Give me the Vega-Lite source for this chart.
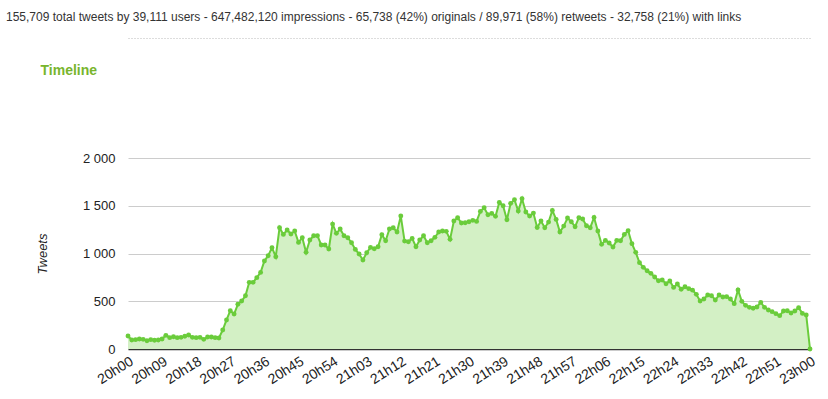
{
  "$schema": "https://vega.github.io/schema/vega-lite/v6.json",
  "autosize": {"type": "none"},
  "padding": {"left": 128, "top": 158, "right": 18, "bottom": 50},
  "width": 682,
  "height": 191,
  "background": "white",
  "config": {"view": {"stroke": null}, "font": "Liberation Sans"},
  "title": {
    "text": "155,709 total tweets by 39,111 users - 647,482,120 impressions - 65,738 (42%) originals / 89,971 (58%) retweets - 32,758 (21%) with links",
    "anchor": "start", "frame": "group", "dx": -122, "offset": 14,
    "fontSize": 12, "fontWeight": "normal", "color": "#333", "font": "Liberation Sans"
  },
  "data": {"values": [
    {"t":"20h00","n":136},{"t":"20h01","n":94},{"t":"20h02","n":98},{"t":"20h03","n":105},{"t":"20h04","n":101},{"t":"20h05","n":87},{"t":"20h06","n":98},{"t":"20h07","n":91},{"t":"20h08","n":94},{"t":"20h09","n":105},
    {"t":"20h10","n":143},{"t":"20h11","n":119},{"t":"20h12","n":129},{"t":"20h13","n":119},{"t":"20h14","n":122},{"t":"20h15","n":133},{"t":"20h16","n":147},{"t":"20h17","n":122},{"t":"20h18","n":119},{"t":"20h19","n":122},
    {"t":"20h20","n":101},{"t":"20h21","n":126},{"t":"20h22","n":126},{"t":"20h23","n":119},{"t":"20h24","n":115},{"t":"20h25","n":199},{"t":"20h26","n":304},{"t":"20h27","n":401},{"t":"20h28","n":366},{"t":"20h29","n":468},
    {"t":"20h30","n":502},{"t":"20h31","n":558},{"t":"20h32","n":698},{"t":"20h33","n":698},{"t":"20h34","n":747},{"t":"20h35","n":802},{"t":"20h36","n":921},{"t":"20h37","n":977},{"t":"20h38","n":1061},{"t":"20h39","n":966},
    {"t":"20h40","n":1270},{"t":"20h41","n":1200},{"t":"20h42","n":1246},{"t":"20h43","n":1204},{"t":"20h44","n":1235},{"t":"20h45","n":1116},{"t":"20h46","n":1165},{"t":"20h47","n":1012},{"t":"20h48","n":1141},{"t":"20h49","n":1186},
    {"t":"20h50","n":1186},{"t":"20h51","n":1089},{"t":"20h52","n":1089},{"t":"20h53","n":1047},{"t":"20h54","n":1308},{"t":"20h55","n":1211},{"t":"20h56","n":1256},{"t":"20h57","n":1186},{"t":"20h58","n":1165},{"t":"20h59","n":1113},
    {"t":"21h00","n":1043},{"t":"21h01","n":994},{"t":"21h02","n":932},{"t":"21h03","n":1008},{"t":"21h04","n":1064},{"t":"21h05","n":1050},{"t":"21h06","n":1071},{"t":"21h07","n":1197},{"t":"21h08","n":1134},{"t":"21h09","n":1256},
    {"t":"21h10","n":1270},{"t":"21h11","n":1225},{"t":"21h12","n":1392},{"t":"21h13","n":1130},{"t":"21h14","n":1123},{"t":"21h15","n":1158},{"t":"21h16","n":1071},{"t":"21h17","n":1141},{"t":"21h18","n":1186},{"t":"21h19","n":1113},
    {"t":"21h20","n":1134},{"t":"21h21","n":1169},{"t":"21h22","n":1225},{"t":"21h23","n":1235},{"t":"21h24","n":1232},{"t":"21h25","n":1148},{"t":"21h26","n":1340},{"t":"21h27","n":1375},{"t":"21h28","n":1319},{"t":"21h29","n":1322},
    {"t":"21h30","n":1333},{"t":"21h31","n":1347},{"t":"21h32","n":1336},{"t":"21h33","n":1441},{"t":"21h34","n":1479},{"t":"21h35","n":1406},{"t":"21h36","n":1420},{"t":"21h37","n":1389},{"t":"21h38","n":1535},{"t":"21h39","n":1500},
    {"t":"21h40","n":1354},{"t":"21h41","n":1525},{"t":"21h42","n":1563},{"t":"21h43","n":1444},{"t":"21h44","n":1574},{"t":"21h45","n":1434},{"t":"21h46","n":1392},{"t":"21h47","n":1423},{"t":"21h48","n":1273},{"t":"21h49","n":1340},
    {"t":"21h50","n":1270},{"t":"21h51","n":1329},{"t":"21h52","n":1451},{"t":"21h53","n":1357},{"t":"21h54","n":1225},{"t":"21h55","n":1287},{"t":"21h56","n":1371},{"t":"21h57","n":1333},{"t":"21h58","n":1280},{"t":"21h59","n":1375},
    {"t":"22h00","n":1361},{"t":"22h01","n":1291},{"t":"22h02","n":1270},{"t":"22h03","n":1378},{"t":"22h04","n":1235},{"t":"22h05","n":1096},{"t":"22h06","n":1137},{"t":"22h07","n":1110},{"t":"22h08","n":1068},{"t":"22h09","n":1137},
    {"t":"22h10","n":1134},{"t":"22h11","n":1200},{"t":"22h12","n":1239},{"t":"22h13","n":1103},{"t":"22h14","n":1012},{"t":"22h15","n":904},{"t":"22h16","n":855},{"t":"22h17","n":820},{"t":"22h18","n":792},{"t":"22h19","n":754},
    {"t":"22h20","n":715},{"t":"22h21","n":722},{"t":"22h22","n":684},{"t":"22h23","n":712},{"t":"22h24","n":645},{"t":"22h25","n":680},{"t":"22h26","n":625},{"t":"22h27","n":652},{"t":"22h28","n":632},{"t":"22h29","n":616},
    {"t":"22h30","n":572},{"t":"22h31","n":502},{"t":"22h32","n":523},{"t":"22h33","n":565},{"t":"22h34","n":558},{"t":"22h35","n":513},{"t":"22h36","n":565},{"t":"22h37","n":544},{"t":"22h38","n":548},{"t":"22h39","n":523},
    {"t":"22h40","n":475},{"t":"22h41","n":618},{"t":"22h42","n":499},{"t":"22h43","n":457},{"t":"22h44","n":436},{"t":"22h45","n":426},{"t":"22h46","n":440},{"t":"22h47","n":488},{"t":"22h48","n":436},{"t":"22h49","n":408},
    {"t":"22h50","n":391},{"t":"22h51","n":370},{"t":"22h52","n":349},{"t":"22h53","n":398},{"t":"22h54","n":401},{"t":"22h55","n":377},{"t":"22h56","n":398},{"t":"22h57","n":433},{"t":"22h58","n":373},{"t":"22h59","n":356},
    {"t":"23h00","n":0}
  ]},
  "resolve": {"axis": {"x": "independent"}},
  "layer": [
    {
      "mark": {"type": "area", "color": "#d3f0c5", "opacity": 1, "line": {"color": "#6acc3b", "strokeWidth": 2}},
      "encoding": {
        "x": {"field": "t", "type": "ordinal", "sort": "ascending",
          "scale": {"type": "point", "padding": 0},
          "axis": {"orient": "bottom", "title": null,
            "values": ["20h00","20h09","20h18","20h27","20h36","20h45","20h54","21h03","21h12","21h21","21h30","21h39","21h48","21h57","22h06","22h15","22h24","22h33","22h42","22h51","23h00"],
            "labelAngle": -32, "labelAlign": "right", "labelBaseline": "top", "labelPadding": 5,
            "labelFontSize": 14, "labelColor": "#222", "labelFont": "Liberation Sans", "labelOverlap": false,
            "ticks": false, "grid": false, "domainColor": "#333", "domainWidth": 1.5}},
        "y": {"field": "n", "type": "quantitative",
          "scale": {"domain": [0, 2000], "nice": false},
          "axis": {"title": "Tweets", "values": [0, 500, 1000, 1500, 2000],
            "labelExpr": "replace(format(datum.value, ','), ',', ' ')",
            "labelFontSize": 13, "labelColor": "#222", "labelFont": "Liberation Sans", "labelPadding": 13,
            "ticks": false, "domain": false, "gridColor": "#cccccc", "gridWidth": 1,
            "titleFontStyle": "italic", "titleFontWeight": "normal", "titleFontSize": 13, "titleColor": "#222",
            "titleFont": "Liberation Sans", "titlePadding": 33}}
      }
    },
    {
      "mark": {"type": "circle", "color": "#6acc3b", "size": 24, "opacity": 1},
      "encoding": {
        "x": {"field": "t", "type": "ordinal", "sort": "ascending",
          "axis": {"orient": "top", "offset": 120, "labels": false, "ticks": false, "grid": false,
            "domainColor": "#bbbbbb", "domainDash": [1, 2], "domainWidth": 1,
            "title": "Timeline", "titleX": -88, "titleY": 32, "titleAlign": "left", "titleBaseline": "middle",
            "titleAnchor": "start", "titleFontSize": 14, "titleFontWeight": "bold", "titleColor": "#78b52d",
            "titleFont": "Liberation Sans"}},
        "y": {"field": "n", "type": "quantitative"}
      }
    }
  ]
}
